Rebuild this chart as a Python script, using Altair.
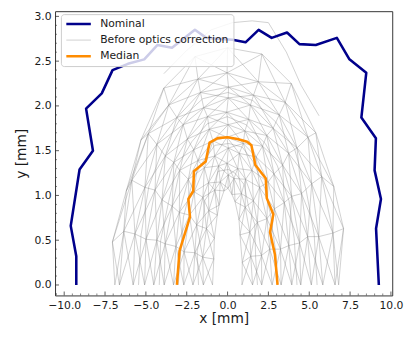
import altair as alt
import pandas as pd
import numpy as np

series_names = ["Nominal", "Before optics correction", "Median"]
series_colors = ["#00008b", "#8c8c8c", "#ff8c00"]

nominal_x = [-9.26, -9.26, -9.60, -9.06, -8.24, -8.66, -7.70, -7.04, -6.10, -5.10, -4.30, -3.40,
             -2.00, -1.30, 0.30, 1.10, 1.90, 2.70, 3.64, 4.40, 5.40, 6.69, 7.46, 8.49, 8.19, 9.08,
             9.00, 9.39, 9.09, 9.26]
nominal_y = [0.00, 0.32, 0.66, 1.29, 1.50, 1.97, 2.14, 2.40, 2.47, 2.52, 2.68, 2.65,
             2.85, 2.76, 2.74, 2.71, 2.85, 2.76, 2.82, 2.69, 2.68, 2.76, 2.52, 2.37, 1.87, 1.64,
             1.28, 0.96, 0.63, 0.00]

median_x = [-3.10, -2.94, -2.30, -2.40, -2.10, -2.06, -1.34, -1.10, -0.60, 0.00, 0.60, 1.20,
            1.46, 1.70, 2.34, 2.40, 2.80, 2.60, 2.90, 3.06]
median_y = [0.00, 0.38, 0.76, 0.96, 1.05, 1.27, 1.38, 1.59, 1.64, 1.65, 1.63, 1.60,
            1.56, 1.34, 1.19, 0.97, 0.79, 0.59, 0.34, 0.00]

# "Before optics correction": distorted arches
mesh_x = [
    [-0.92, -0.84, -0.81, -0.63, -0.52, -0.22, 0.03, 0.27, 0.46, 0.70, 0.76, 0.90, 0.88],
    [-1.48, -1.52, -1.29, -1.15, -0.78, -0.45, 0.04, 0.39, 0.85, 1.08, 1.36, 1.42, 1.53],
    [-2.12, -2.00, -1.89, -1.51, -1.17, -0.55, -0.03, 0.62, 1.10, 1.58, 1.82, 2.08, 2.09],
    [-2.68, -2.66, -2.33, -2.04, -1.42, -0.79, 0.05, 0.72, 1.49, 1.96, 2.41, 2.58, 2.73],
    [-3.31, -3.16, -2.95, -2.40, -1.81, -0.89, -0.04, 0.96, 1.75, 2.48, 2.87, 3.24, 3.28],
    [-3.88, -3.82, -3.39, -2.93, -2.07, -1.12, 0.03, 1.06, 2.14, 2.84, 3.47, 3.75, 3.93],
    [-4.52, -4.33, -4.01, -3.29, -2.46, -1.23, -0.05, 1.29, 2.40, 3.37, 3.92, 4.41, 4.48],
    [-5.08, -4.99, -4.44, -3.81, -2.72, -1.46, 0.04, 1.40, 2.79, 3.74, 4.53, 4.90, 5.13],
    [-5.78, -5.67, -5.06, -4.33, -3.10, -1.66, 0.06, 1.59, 3.16, 4.25, 5.15, 5.58, 5.83],
    [-6.62, -6.35, -5.86, -4.85, -3.60, -1.81, -0.03, 1.88, 3.53, 4.92, 5.76, 6.45, 6.58],
    [-6.90, -7.05, -6.20, -5.30, -3.90, -2.00, 0.00, 2.10, 3.90, 5.40, 6.50, 7.10, 6.80],
]
mesh_y = [
    [0.00, 0.29, 0.52, 0.78, 0.89, 1.05, 1.08, 1.01, 0.93, 0.73, 0.56, 0.25, 0.00],
    [0.00, 0.31, 0.63, 0.83, 1.06, 1.15, 1.23, 1.19, 1.02, 0.87, 0.59, 0.32, 0.00],
    [0.00, 0.36, 0.67, 0.98, 1.14, 1.33, 1.36, 1.30, 1.18, 0.94, 0.70, 0.33, 0.00],
    [0.00, 0.37, 0.78, 1.04, 1.31, 1.44, 1.53, 1.47, 1.28, 1.09, 0.74, 0.40, 0.00],
    [0.00, 0.43, 0.81, 1.18, 1.39, 1.61, 1.65, 1.58, 1.43, 1.15, 0.85, 0.40, 0.00],
    [0.00, 0.46, 0.88, 1.28, 1.51, 1.74, 1.79, 1.72, 1.55, 1.24, 0.92, 0.44, 0.00],
    [0.00, 0.50, 0.95, 1.37, 1.63, 1.88, 1.93, 1.85, 1.67, 1.34, 0.99, 0.47, 0.00],
    [0.00, 0.51, 1.06, 1.44, 1.79, 1.98, 2.09, 2.01, 1.75, 1.47, 1.02, 0.54, 0.00],
    [0.00, 0.57, 1.09, 1.57, 1.87, 2.15, 2.21, 2.12, 1.90, 1.53, 1.13, 0.54, 0.00],
    [0.00, 0.60, 1.17, 1.69, 2.01, 2.30, 2.37, 2.27, 2.04, 1.65, 1.21, 0.58, 0.00],
    [0.00, 0.48, 1.05, 1.62, 2.20, 2.55, 2.65, 2.58, 2.25, 1.70, 1.10, 0.63, 0.00],
]
extra_x = [
    [-1.78, -1.86, -1.55, -1.40, -0.92, -0.58, 0.05, 0.45, 1.02, 1.28, 1.66, 1.72, 1.83],
    [-3.02, -2.85, -2.70, -2.16, -1.69, -0.78, 0.08, 0.90, 1.55, 2.28, 2.60, 2.95, 3.05],
    [-4.18, -4.10, -3.62, -3.15, -2.19, -1.25, -0.02, 1.13, 2.31, 3.05, 3.76, 4.08, 4.25],
    [-5.45, -5.30, -4.82, -4.00, -2.95, -1.52, 0.02, 1.55, 2.95, 4.10, 4.80, 5.30, 5.48],
]
extra_y = [
    [0.00, 0.38, 0.62, 0.94, 1.08, 1.27, 1.29, 1.25, 1.12, 0.88, 0.68, 0.30, 0.00],
    [0.00, 0.42, 0.76, 1.14, 1.33, 1.56, 1.58, 1.54, 1.38, 1.08, 0.81, 0.37, 0.00],
    [0.00, 0.49, 0.92, 1.30, 1.60, 1.80, 1.88, 1.79, 1.58, 1.33, 0.94, 0.52, 0.00],
    [0.00, 0.55, 1.10, 1.50, 1.84, 2.08, 2.15, 2.06, 1.82, 1.52, 1.07, 0.57, 0.00],
]
outer_arc_x = [-3.9, -2.5, -1.0, 0.3, 1.5, 2.5, 3.6, 4.5, 5.6]
outer_arc_y = [2.36, 2.62, 2.85, 2.93, 2.95, 2.93, 2.60, 2.23, 1.89]

x_ticks = [-10.0, -7.5, -5.0, -2.5, 0.0, 2.5, 5.0, 7.5, 10.0]
y_ticks = [0.0, 0.5, 1.0, 1.5, 2.0, 2.5, 3.0]
x_minor = [v for v in np.round(np.arange(-10.5, 10.01, 0.5), 2) if v not in x_ticks]
y_minor = [v for v in np.round(np.arange(-0.1, 3.01, 0.1), 2) if round(v * 2, 6) % 1 != 0]

X_DOMAIN = [-10.56, 10.08]
Y_DOMAIN = [-0.117, 3.058]
W, H = 344, 290

# ---- build tables ----
grey = series_names[1]
mesh_rows = []
for k, (xs, ys) in enumerate(zip(mesh_x + extra_x, mesh_y + extra_y)):
    for i, (a, b) in enumerate(zip(xs, ys)):
        mesh_rows.append(dict(x=a, y=b, series=grey, line=f"arch{k}", idx=i))
for i, (a, b) in enumerate(zip(outer_arc_x, outer_arc_y)):
    mesh_rows.append(dict(x=a, y=b, series=grey, line="outer", idx=i))
# radial connections between neighbouring arches
for i in range(1, 12):
    for k in range(len(mesh_x)):
        mesh_rows.append(dict(x=mesh_x[k][i], y=mesh_y[k][i], series=grey, line=f"spoke{i}", idx=k))
# crossing zig-zag connections between neighbouring arches
for k in range(len(mesh_x) - 1):
    for phase in (0, 1):
        for i in range(13):
            kk = k if (i + phase) % 2 == 0 else k + 1
            mesh_rows.append(dict(x=mesh_x[kk][i], y=mesh_y[kk][i], series=grey,
                                  line=f"zig{k}_{phase}", idx=i))
mesh_df = pd.DataFrame(mesh_rows)

main_rows = []
for i, (a, b) in enumerate(zip(nominal_x, nominal_y)):
    main_rows.append(dict(x=a, y=b, series="Nominal", line="nominal", idx=i))
for i, (a, b) in enumerate(zip(median_x, median_y)):
    main_rows.append(dict(x=a, y=b, series="Median", line="median", idx=i))
main_df = pd.DataFrame(main_rows)

xscale = alt.Scale(domain=X_DOMAIN, nice=False, zero=False)
yscale = alt.Scale(domain=Y_DOMAIN, nice=False, zero=False)

axis_common = dict(ticks=False, domain=False, grid=False, labelFontSize=11, titleFontSize=14,
                   labelFont="DejaVu Sans", titleFont="DejaVu Sans", titleFontWeight="normal",
                   labelColor="#1a1a1a", titleColor="#1a1a1a", labelFlush=False, labelOverlap=False)
x_axis = alt.Axis(values=x_ticks, format=".1f", title="x [mm]", labelPadding=4, titlePadding=2, **axis_common)
y_axis = alt.Axis(values=y_ticks, format=".1f", title="y [mm]", labelPadding=4, titlePadding=6, **axis_common)

enc = dict(
    x=alt.X("x:Q", scale=xscale, axis=x_axis),
    y=alt.Y("y:Q", scale=yscale, axis=y_axis),
    color=alt.Color("series:N", scale=alt.Scale(domain=series_names, range=series_colors), legend=alt.Legend(title=None)),
    strokeWidth=alt.StrokeWidth("series:N", scale=alt.Scale(type="ordinal", domain=series_names, range=[2.6, 0.8, 2.6]), legend=alt.Legend(title=None)),
    opacity=alt.Opacity("series:N", scale=alt.Scale(type="ordinal", domain=series_names, range=[1.0, 0.5, 1.0]), legend=alt.Legend(title=None)),
    detail="line:N",
    order="idx:Q",
)

mesh = alt.Chart(mesh_df).mark_line(strokeJoin="round").encode(**enc)
lines = alt.Chart(main_df).mark_line(strokeJoin="round").encode(**enc)

tick_color = "#333333"
xt_major = alt.Chart(pd.DataFrame({"x": x_ticks})).mark_rule(color=tick_color, strokeWidth=0.8).encode(
    x=alt.X("x:Q", scale=xscale, axis=x_axis), y=alt.value(H), y2=alt.value(H - 4))
xt_minor = alt.Chart(pd.DataFrame({"x": x_minor})).mark_rule(color=tick_color, strokeWidth=0.6).encode(
    x=alt.X("x:Q", scale=xscale, axis=x_axis), y=alt.value(H), y2=alt.value(H - 2))
yt_major = alt.Chart(pd.DataFrame({"y": y_ticks})).mark_rule(color=tick_color, strokeWidth=0.8).encode(
    y=alt.Y("y:Q", scale=yscale, axis=y_axis), x=alt.value(0), x2=alt.value(4))
yt_minor = alt.Chart(pd.DataFrame({"y": y_minor})).mark_rule(color=tick_color, strokeWidth=0.6).encode(
    y=alt.Y("y:Q", scale=yscale, axis=y_axis), x=alt.value(0), x2=alt.value(2))

chart = alt.layer(mesh, lines, xt_major, xt_minor, yt_major, yt_minor).properties(
    width=W, height=H,
    padding={"left": 48, "top": 0, "right": 12, "bottom": 32},
    autosize=alt.AutoSizeParams(type="none"),
).configure_view(
    stroke="#333333", strokeWidth=1
).configure_legend(
    orient="none", legendX=6, legendY=3,
    fillColor="rgba(255,255,255,0.8)", strokeColor="#cccccc", cornerRadius=3, padding=4,
    symbolType="stroke", symbolSize=625, labelFontSize=11, labelFont="DejaVu Sans",
    labelColor="#1a1a1a", labelOffset=8, rowPadding=4.5, clipHeight=12,
)

chart.save("out.html", embed_options={"renderer": "svg", "actions": False})
